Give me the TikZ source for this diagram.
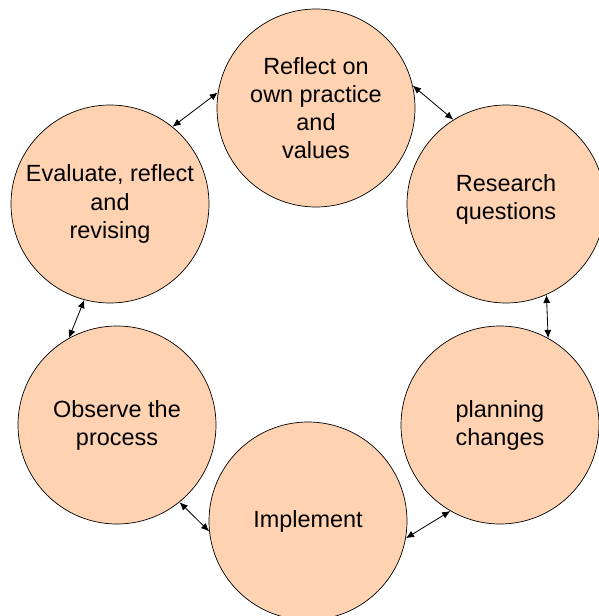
\documentclass[tikz,border=0pt]{standalone}
\usepackage{fontspec}
\setmainfont{Liberation Sans}
\usetikzlibrary{arrows.meta}

\definecolor{peach}{RGB}{255,211,178}

\begin{document}
\begin{tikzpicture}[
	stage/.style={circle, draw=black, line width=0.6pt, fill=peach, minimum size=5.94cm, inner sep=0pt, align=center, font=\fontsize{20}{24}\selectfont},
	link/.style={{Latex[length=7pt,width=6pt]}-{Latex[length=7pt,width=6pt]}, line width=0.7pt}]
	\useasboundingbox (0,0) rectangle (17.94,-18.48);

	% the six stages of the cycle
	\node[stage] (reflect)   at (9.48, -3.24)  {Reflect on\\own practice\\and\\values};
	\node[stage] (research)  at (15.18, -6.12) {Research\\questions\\[-0.42cm]};
	\node[stage] (planning)  at (15.00, -12.75) {planning\\changes};
	\node[stage] (implement) at (9.24, -15.63) {Implement};
	\node[stage] (observe)   at (3.51, -12.75) {Observe the\\process};
	\node[stage] (evaluate)  at (3.30, -6.12)  {Evaluate, reflect\\and\\revising};

	% two-way links round the ring
	\draw[link] (reflect.171) -- (evaluate.51);
	\draw[link] (reflect.13) -- (research.122);
	\draw[link] (research.294) -- (planning.61);
	\draw[link] (planning.240) -- (implement.350);
	\draw[link] (implement.186) -- (observe.309);
	\draw[link] (observe.119) -- (evaluate.255);
\end{tikzpicture}
\end{document}
